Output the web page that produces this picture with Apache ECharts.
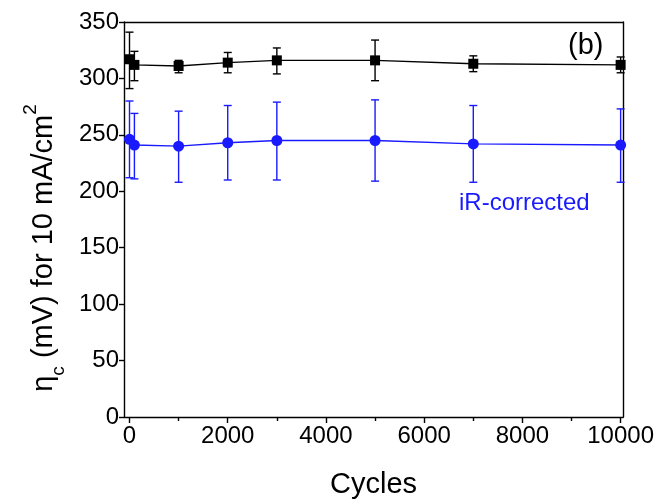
<!DOCTYPE html>
<html><head><meta charset="utf-8">
<script src="https://cdn.jsdelivr.net/npm/echarts@6/dist/echarts.min.js"></script>
<style>html,body{margin:0;padding:0;background:#fff}#c{width:657px;height:504px}</style>
</head><body><div id="c"></div>
<script>
const cycles = [0, 100, 1000, 2000, 3000, 5000, 7000, 10000];
const raw = [317, 312, 311, 314, 316, 316, 313, 312];
const rawLow = [291, 298, 305, 305, 304, 298, 306, 305];
const rawHigh = [341, 324, 316, 323, 327, 334, 320, 319];
const irc = [246, 241, 240, 243, 245, 245, 242, 241];
const ircLow = [212, 211, 208, 210, 210, 209, 208, 208];
const ircHigh = [280, 269, 271, 276, 279, 281, 276, 273];
const xMajor = [0, 2000, 4000, 6000, 8000, 10000];
const xMinor = [1000, 3000, 5000, 7000, 9000];

const FONT = 'Liberation Sans, Arial, sans-serif';
const BLUE = '#1a1aff';
const chart = echarts.init(document.getElementById('c'));

function errSeries(name, color, lows, highs) {
  return {
    type: 'custom', name: name, z: 3,
    data: cycles.map((c, i) => [c, lows[i], highs[i]]),
    renderItem: function (params, api) {
      const p1 = api.coord([api.value(0), api.value(1)]);
      const p2 = api.coord([api.value(0), api.value(2)]);
      const x = p1[0], yl = p1[1], yh = p2[1];
      const hw = 4;
      const st = { stroke: color, lineWidth: 1.4 };
      return { type: 'group', children: [
        { type: 'line', shape: { x1: x, y1: yl, x2: x, y2: yh }, style: st },
        { type: 'line', shape: { x1: x - hw, y1: yl, x2: x + hw, y2: yl }, style: st },
        { type: 'line', shape: { x1: x - hw, y1: yh, x2: x + hw, y2: yh }, style: st }
      ]};
    }
  };
}

const xMin = -112, xMax = 10050;
const axLine = { show: true, onZero: false, lineStyle: { color: '#000', width: 1.4 } };
chart.setOption({
  animation: false,
  grid: { left: 124, right: 33, top: 22, bottom: 83 },
  xAxis: [
    { type: 'value', min: xMin, max: xMax, position: 'bottom',
      splitLine: { show: false },
      axisLine: axLine,
      axisTick: { customValues: xMajor, length: 6, lineStyle: { color: '#000', width: 1.4 } },
      axisLabel: { customValues: xMajor, formatter: v => String(v), color: '#000', fontSize: 24, fontFamily: FONT, margin: 7 },
      name: 'Cycles', nameLocation: 'middle', nameGap: 53,
      nameTextStyle: { color: '#000', fontSize: 29, fontFamily: FONT } },
    { type: 'value', min: xMin, max: xMax, position: 'bottom',
      splitLine: { show: false },
      axisLine: { show: false, onZero: false },
      axisTick: { customValues: xMinor, length: 4, lineStyle: { color: '#000', width: 1.4 } },
      axisLabel: { show: false } },
    { type: 'value', min: xMin, max: xMax, position: 'top',
      splitLine: { show: false },
      axisLine: axLine,
      axisTick: { show: false }, axisLabel: { show: false } }
  ],
  yAxis: [
    { type: 'value', min: 0, max: 350, interval: 50, position: 'left',
      splitLine: { show: false },
      axisLine: axLine,
      axisTick: { show: true, length: 5, lineStyle: { color: '#000', width: 1.4 } },
      axisLabel: { color: '#000', fontSize: 24, fontFamily: FONT, margin: 5 } },
    { type: 'value', min: 0, max: 350, interval: 50, position: 'right',
      splitLine: { show: false },
      axisLine: axLine,
      axisTick: { show: false }, axisLabel: { show: false } }
  ],
  graphic: [
    { type: 'text', x: 44, y: 248, rotation: Math.PI / 2,
      style: { text: '{n|η}{s|c}{n| (mV) for 10 mA/cm}{p|2}', align: 'center', verticalAlign: 'middle',
        rich: {
          n: { fontSize: 29, fontFamily: FONT, fill: '#000', verticalAlign: 'middle', lineHeight: 36 },
          s: { fontSize: 19, fontFamily: FONT, fill: '#000', verticalAlign: 'bottom', lineHeight: 36, padding: [0, 0, -6, 0] },
          p: { fontSize: 19, fontFamily: FONT, fill: '#000', verticalAlign: 'top', lineHeight: 36, padding: [-5, 0, 0, 0] }
        } } },
    { type: 'text', left: 568, top: 31, style: { text: '(b)', fontSize: 29, fontFamily: FONT, fill: '#000' } },
    { type: 'text', left: 459, top: 191, style: { text: 'iR-corrected', fontSize: 24, fontFamily: FONT, fill: BLUE } }
  ],
  series: [
    errSeries('rawErr', '#000', rawLow, rawHigh),
    errSeries('ircErr', BLUE, ircLow, ircHigh),
    { type: 'line', name: 'raw', z: 4, data: cycles.map((c, i) => [c, raw[i]]),
      symbol: 'rect', symbolSize: 10, lineStyle: { color: '#000', width: 1.4 },
      itemStyle: { color: '#000' } },
    { type: 'line', name: 'iR-corrected', z: 4, data: cycles.map((c, i) => [c, irc[i]]),
      symbol: 'circle', symbolSize: 11, lineStyle: { color: BLUE, width: 1.4 },
      itemStyle: { color: BLUE } }
  ]
});
</script></body></html>
